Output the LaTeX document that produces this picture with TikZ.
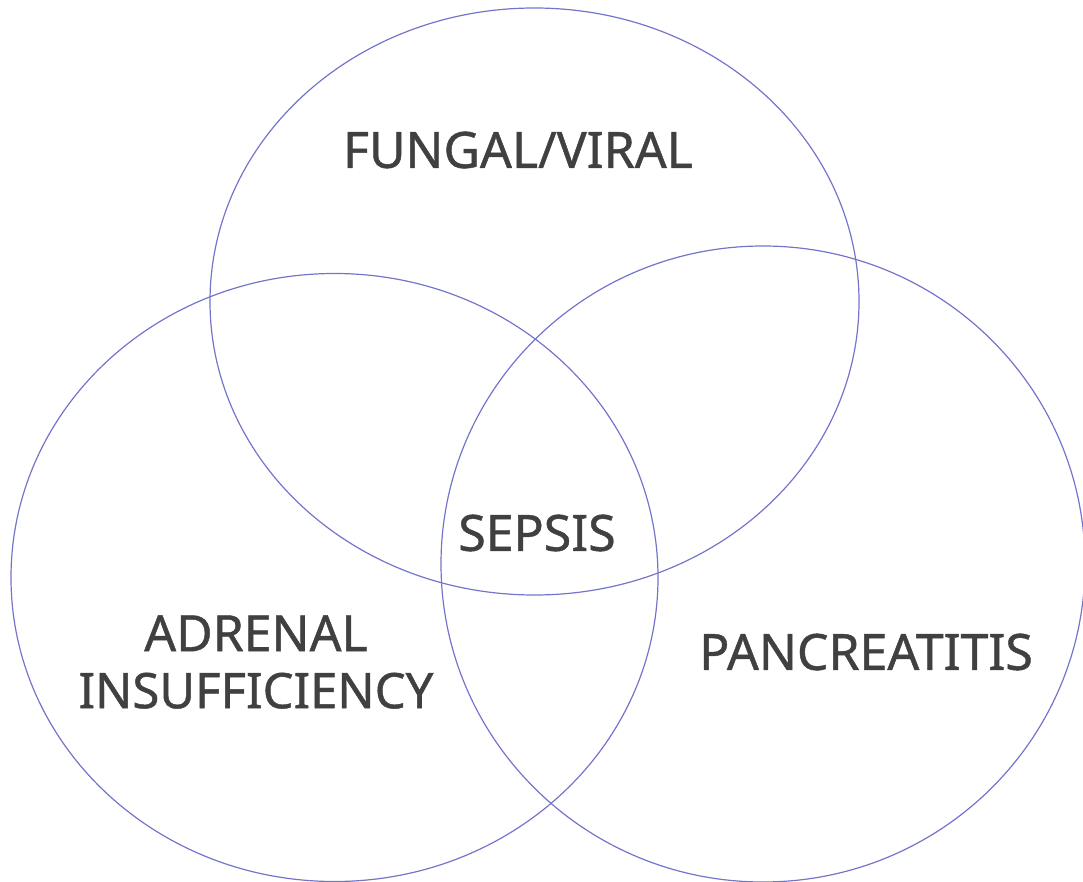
\documentclass[tikz,border=0pt]{standalone}
\usepackage{fontspec}
\setmainfont[FakeBold=0.9]{Noto Sans}
\definecolor{ringblue}{HTML}{7474CC}
\definecolor{labelgray}{HTML}{404040}
\begin{document}
\begin{tikzpicture}[x=1pt,y=-1pt,
  ring/.style={draw=ringblue,line width=1.2pt},
  lbl/.style={text=labelgray,font=\fontsize{50}{57}\selectfont,align=center,inner sep=0pt}]
\useasboundingbox (0,0) rectangle (1083,882);
% the three overlapping sets
\draw[ring] (534.5,301.5) ellipse [x radius=324.5, y radius=293.5];
\draw[ring] (334.5,577.5) ellipse [x radius=323.5, y radius=304];
\draw[ring] (763,564) ellipse [x radius=322, y radius=318];
% set labels
\node[lbl] (fv) at (518,150) {FUNGAL/VIRAL};
\node[lbl] (sep) at (537,533) {SEPSIS};
\node[lbl] (ai) at (256,662) {ADRENAL\\\fontsize{49}{57}\selectfont INSUFFICIENCY};
\node[lbl] (pan) at (866,652) {PANCREATITIS};
\end{tikzpicture}
\end{document}
